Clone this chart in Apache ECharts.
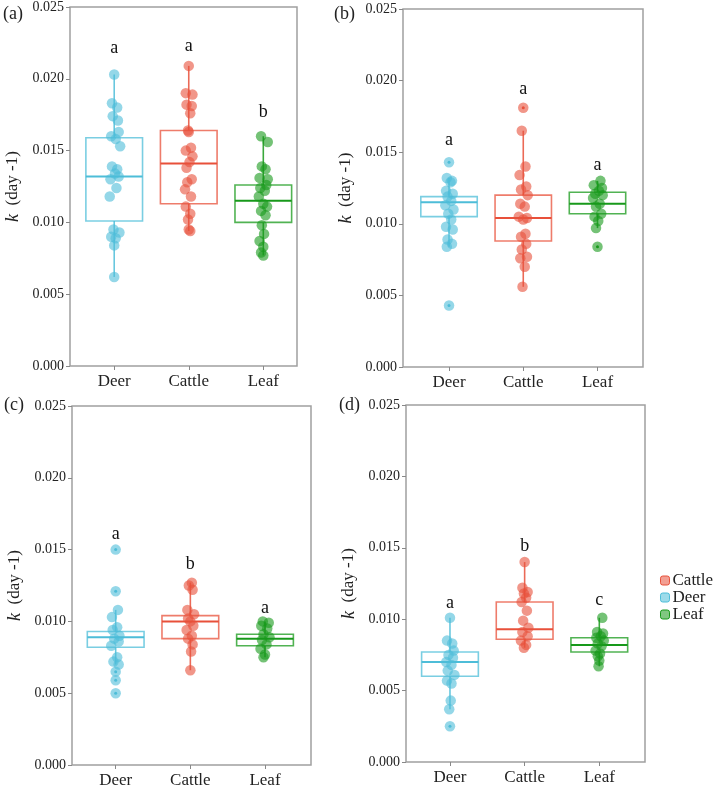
<!DOCTYPE html>
<html><head><meta charset="utf-8">
<script src="https://cdn.jsdelivr.net/npm/echarts@6/dist/echarts.min.js"></script>
<style>html,body{margin:0;padding:0;background:#fff}#c{width:720px;height:789px}</style>
</head><body><div id="c"></div>
<script>
// ---------- data ----------
const categories = ['Deer', 'Cattle', 'Leaf'];
const yTickValues = [0, 0.005, 0.010, 0.015, 0.020, 0.025];
const panelLabels = ['(a)', '(b)', '(c)', '(d)'];
const legendNames = ['Cattle', 'Deer', 'Leaf'];

// panel (a)
const deerA = [0.0203, 0.0183, 0.0180, 0.0174, 0.0171, 0.0163, 0.0160, 0.0158, 0.0153, 0.0139, 0.0137, 0.0134, 0.0132, 0.0130, 0.0124, 0.0118, 0.0095, 0.0093, 0.0090, 0.0089, 0.0084, 0.0062];
const cattleA = [0.0209, 0.0190, 0.0189, 0.0182, 0.0181, 0.0176, 0.0164, 0.0163, 0.0152, 0.0150, 0.0146, 0.0142, 0.0138, 0.0130, 0.0128, 0.0123, 0.0118, 0.0111, 0.0106, 0.0102, 0.0095, 0.0094];
const leafA = [0.0160, 0.0156, 0.0139, 0.0137, 0.0131, 0.0130, 0.0126, 0.0124, 0.0122, 0.0118, 0.0113, 0.0111, 0.0108, 0.0105, 0.0098, 0.0092, 0.0087, 0.0083, 0.0079, 0.0077];
const boxA = [[0.0062, 0.0101, 0.0132, 0.0159, 0.0203], [0.0094, 0.0113, 0.0141, 0.0164, 0.0209], [0.0077, 0.0100, 0.0115, 0.0126, 0.0160]];
const lettersA = ['a', 'a', 'b'];
const letterYA = [0.0221, 0.0223, 0.0177];
const outliersA = [[], [], []];

// panel (b)
const deerB = [0.0143, 0.0132, 0.0130, 0.0129, 0.0123, 0.0121, 0.0119, 0.0116, 0.0113, 0.0110, 0.0107, 0.0103, 0.0098, 0.0096, 0.0089, 0.0086, 0.0084, 0.0043];
const cattleB = [0.0181, 0.0165, 0.0140, 0.0134, 0.0126, 0.0124, 0.0120, 0.0114, 0.0112, 0.0105, 0.0104, 0.0103, 0.0093, 0.0091, 0.0086, 0.0082, 0.0077, 0.0076, 0.0070, 0.0056];
const leafB = [0.0130, 0.0127, 0.0125, 0.0123, 0.0121, 0.0120, 0.0118, 0.0114, 0.0112, 0.0107, 0.0105, 0.0102, 0.0097, 0.0084];
const boxB = [[0.0084, 0.0105, 0.0115, 0.0119, 0.0132], [0.0056, 0.0088, 0.0104, 0.0120, 0.0165], [0.0097, 0.0107, 0.0114, 0.0122, 0.0130]];
const lettersB = ['a', 'a', 'a'];
const letterYB = [0.0158, 0.0194, 0.0141];
const outliersB = [[0.0143, 0.0043], [0.0181], [0.0084]];

// panel (c)
const deerC = [0.0150, 0.0121, 0.0108, 0.0103, 0.0096, 0.0094, 0.0090, 0.0088, 0.0086, 0.0083, 0.0075, 0.0072, 0.0070, 0.0065, 0.0059, 0.0050];
const cattleC = [0.0127, 0.0125, 0.0122, 0.0108, 0.0105, 0.0102, 0.0100, 0.0097, 0.0094, 0.0090, 0.0088, 0.0084, 0.0079, 0.0066];
const leafC = [0.0100, 0.0099, 0.0097, 0.0095, 0.0091, 0.0089, 0.0087, 0.0084, 0.0081, 0.0077, 0.0075];
const boxC = [[0.0070, 0.0082, 0.0089, 0.0093, 0.0108], [0.0066, 0.0088, 0.0100, 0.0104, 0.0127], [0.0075, 0.0083, 0.0088, 0.0091, 0.0100]];
const lettersC = ['a', 'b', 'a'];
const letterYC = [0.0161, 0.0140, 0.0109];
const outliersC = [[0.0150, 0.0121, 0.0065, 0.0059, 0.0050], [], []];

// panel (d)
const deerD = [0.0101, 0.0085, 0.0083, 0.0078, 0.0075, 0.0073, 0.0070, 0.0068, 0.0064, 0.0061, 0.0057, 0.0055, 0.0043, 0.0037, 0.0025];
const cattleD = [0.0140, 0.0122, 0.0119, 0.0118, 0.0115, 0.0112, 0.0106, 0.0099, 0.0094, 0.0091, 0.0088, 0.0085, 0.0082, 0.0080];
const leafD = [0.0101, 0.0091, 0.0090, 0.0088, 0.0087, 0.0085, 0.0083, 0.0081, 0.0078, 0.0076, 0.0074, 0.0071, 0.0067];
const boxD = [[0.0037, 0.0060, 0.0070, 0.0077, 0.0101], [0.0080, 0.0086, 0.0093, 0.0112, 0.0140], [0.0067, 0.0077, 0.0082, 0.0087, 0.0101]];
const lettersD = ['a', 'b', 'c'];
const letterYD = [0.0111, 0.0151, 0.0113];
const outliersD = [[0.0025], [], []];

// horizontal jitter of each point (category units)
const jDeerA = [0.00, -0.03, 0.04, -0.02, 0.05, 0.06, -0.04, 0.02, 0.08, -0.03, 0.04, 0.01, 0.06, -0.05, 0.03, -0.06, -0.01, 0.07, -0.04, 0.02, 0.00, 0.00];
const jCattleA = [0.00, -0.04, 0.05, -0.03, 0.04, 0.02, -0.01, 0.00, 0.03, -0.04, 0.05, 0.01, -0.03, 0.04, -0.02, -0.05, 0.03, -0.04, 0.02, -0.01, 0.00, 0.02];
const jLeafA = [-0.03, 0.06, -0.02, 0.03, -0.05, 0.06, 0.04, -0.04, 0.02, -0.06, 0.00, 0.05, -0.03, 0.03, -0.02, 0.01, -0.05, 0.00, -0.03, 0.00];
const jDeerB = [0.00, -0.03, 0.04, 0.02, -0.04, 0.05, -0.02, 0.03, -0.05, 0.06, -0.01, 0.03, -0.04, 0.05, -0.02, 0.04, -0.03, 0.00];
const jCattleB = [0.00, -0.02, 0.03, -0.05, 0.04, -0.03, 0.06, -0.04, 0.02, -0.06, 0.05, 0.00, 0.03, -0.03, 0.04, -0.02, 0.05, -0.04, 0.02, -0.01];
const jLeafB = [0.04, -0.05, 0.06, 0.02, -0.03, 0.07, -0.06, 0.03, -0.02, 0.05, -0.04, 0.01, -0.02, 0.00];
const jDeerC = [0.00, 0.00, 0.03, -0.05, 0.02, -0.04, 0.05, -0.02, 0.04, -0.06, 0.02, -0.03, 0.04, 0.00, 0.00, 0.00];
const jCattleC = [0.02, -0.02, 0.03, -0.04, 0.05, -0.03, 0.00, 0.04, -0.05, 0.02, -0.03, 0.03, 0.01, 0.00];
const jLeafC = [-0.03, 0.05, -0.05, 0.03, -0.02, 0.06, -0.04, 0.02, -0.06, 0.00, -0.02];
const jDeerD = [0.00, -0.04, 0.03, 0.05, -0.02, 0.04, -0.05, 0.02, -0.03, 0.06, -0.04, 0.02, 0.01, -0.01, 0.00];
const jCattleD = [0.00, -0.03, 0.04, -0.01, 0.02, -0.04, 0.03, -0.02, 0.05, -0.03, 0.04, -0.05, 0.02, -0.01];
const jLeafD = [0.04, -0.03, 0.05, 0.02, -0.04, 0.06, -0.02, 0.03, -0.05, 0.01, -0.02, 0.00, -0.01];

// ---------- styling / layout ----------
const COLORS = ['#4DBDD8', '#E8503A', '#17991A'];
const FONT = "'Liberation Serif','Times New Roman',serif";
const BOX_HALF = 0.38;
const panels = [
  { grid: { left: 70, top: 7, width: 227, height: 359 }, xr: [-0.593, 2.452], title: { left: 3, top: 5 },
    values: [deerA, cattleA, leafA], jitter: [jDeerA, jCattleA, jLeafA], boxes: boxA, letters: lettersA, letterY: letterYA, outliers: outliersA },
  { grid: { left: 403, top: 9, width: 240, height: 358 }, xr: [-0.62, 2.613], title: { left: 334, top: 5 },
    values: [deerB, cattleB, leafB], jitter: [jDeerB, jCattleB, jLeafB], boxes: boxB, letters: lettersB, letterY: letterYB, outliers: outliersB },
  { grid: { left: 72, top: 406, width: 239, height: 359 }, xr: [-0.585, 2.616], title: { left: 4, top: 396 },
    values: [deerC, cattleC, leafC], jitter: [jDeerC, jCattleC, jLeafC], boxes: boxC, letters: lettersC, letterY: letterYC, outliers: outliersC },
  { grid: { left: 406, top: 405, width: 239, height: 357 }, xr: [-0.589, 2.612], title: { left: 339, top: 396 },
    values: [deerD, cattleD, leafD], jitter: [jDeerD, jCattleD, jLeafD], boxes: boxD, letters: lettersD, letterY: letterYD, outliers: outliersD }
];

function rgba(hex, a) {
  const n = parseInt(hex.slice(1), 16);
  return 'rgba(' + (n >> 16) + ',' + ((n >> 8) & 255) + ',' + (n & 255) + ',' + a + ')';
}

function boxRender(params, api) {
  const x = api.value(0);
  const mn = api.value(1), q1 = api.value(2), md = api.value(3), q3 = api.value(4), mx = api.value(5);
  const c = COLORS[params.dataIndex];
  const tl = api.coord([x - BOX_HALF, q3]);
  const br = api.coord([x + BOX_HALF, q1]);
  const ml = api.coord([x - BOX_HALF, md]);
  const mr = api.coord([x + BOX_HALF, md]);
  const pMax = api.coord([x, mx]);
  const pQ3 = api.coord([x, q3]);
  const pQ1 = api.coord([x, q1]);
  const pMin = api.coord([x, mn]);
  return {
    type: 'group',
    children: [
      { type: 'line', shape: { x1: pQ3[0], y1: pQ3[1], x2: pMax[0], y2: pMax[1] }, style: { stroke: rgba(c, 0.85), lineWidth: 1.6 } },
      { type: 'line', shape: { x1: pQ1[0], y1: pQ1[1], x2: pMin[0], y2: pMin[1] }, style: { stroke: rgba(c, 0.85), lineWidth: 1.6 } },
      { type: 'rect', shape: { x: tl[0], y: tl[1], width: br[0] - tl[0], height: br[1] - tl[1] }, style: { fill: '#fff', stroke: rgba(c, 0.75), lineWidth: 1.6 } },
      { type: 'line', shape: { x1: ml[0], y1: ml[1], x2: mr[0], y2: mr[1] }, style: { stroke: c, lineWidth: 2 } }
    ]
  };
}

const option = {
  animation: false,
  backgroundColor: '#fff',
  title: [], grid: [], xAxis: [], yAxis: [], series: [],
  legend: {
    orient: 'vertical', left: 655, top: 567, itemGap: 0, itemWidth: 9, itemHeight: 9, icon: 'roundRect',
    textStyle: { fontFamily: FONT, fontSize: 17, color: '#222', padding: [0, 0, 0, -2] },
    data: legendNames.map(function (n) {
      const c = COLORS[categories.indexOf(n)];
      return { name: n, itemStyle: { color: rgba(c, 0.55), borderColor: c, borderWidth: 1, opacity: 1 } };
    })
  }
};

panels.forEach(function (p, pi) {
  option.title.push({ text: panelLabels[pi], left: p.title.left, top: p.title.top, padding: 0,
    textStyle: { fontFamily: FONT, fontSize: 18, fontWeight: 'normal', color: '#222' } });
  option.grid.push(Object.assign({ show: true, borderColor: '#a0a0a0', borderWidth: 1.5, backgroundColor: 'transparent' }, p.grid));
  option.xAxis.push({
    type: 'value', gridIndex: pi, min: p.xr[0], max: p.xr[1], position: 'bottom',
    axisLine: { show: false, onZero: false }, splitLine: { show: false },
    axisTick: { show: true, customValues: [0, 1, 2], length: 4, lineStyle: { color: '#888' } },
    axisLabel: { customValues: [0, 1, 2], margin: 7, fontFamily: FONT, fontSize: 17, color: '#222',
      formatter: function (v) { return categories[Math.round(v)]; } }
  });
  option.yAxis.push({
    type: 'value', gridIndex: pi, min: 0, max: 0.025, interval: 0.005, position: 'left',
    axisLine: { show: false, onZero: false }, splitLine: { show: false },
    axisTick: { show: true, length: 4, lineStyle: { color: '#888' } },
    axisLabel: { margin: 6, fontFamily: FONT, fontSize: 14, color: '#222',
      formatter: function (v) { return v.toFixed(3); } },
    name: '{i|k}  (day -1)', nameLocation: 'middle', nameGap: 48, nameRotate: 90,
    nameTextStyle: { fontFamily: FONT, fontSize: 17, color: '#222',
      rich: { i: { fontFamily: FONT, fontSize: 18, fontStyle: 'italic', color: '#222' } } }
  });
  // boxes
  option.series.push({
    type: 'custom', name: 'box' + pi, xAxisIndex: pi, yAxisIndex: pi, z: 1, clip: false,
    encode: { x: 0, y: [1, 2, 3, 4, 5] },
    data: p.boxes.map(function (b, i) { return [i].concat(b); }),
    renderItem: boxRender
  });
  // jittered points
  p.values.forEach(function (vals, gi) {
    option.series.push({
      type: 'scatter', name: categories[gi], xAxisIndex: pi, yAxisIndex: pi, z: 2,
      symbolSize: 10.5, itemStyle: { color: COLORS[gi], opacity: 0.6 },
      data: vals.map(function (v, k) { return [gi + p.jitter[gi][k], v]; })
    });
  });
  // outlier dots
  p.outliers.forEach(function (vals, gi) {
    if (!vals.length) return;
    option.series.push({
      type: 'scatter', name: 'out' + pi + gi, xAxisIndex: pi, yAxisIndex: pi, z: 3,
      symbolSize: 3, itemStyle: { color: COLORS[gi], opacity: 1 },
      data: vals.map(function (v) { return [gi, v]; })
    });
  });
  // significance letters
  option.series.push({
    type: 'custom', name: 'letters' + pi, xAxisIndex: pi, yAxisIndex: pi, z: 4, clip: false,
    encode: { x: 0, y: 1 },
    data: p.letterY.map(function (y, i) { return [i, y]; }),
    renderItem: function (params, api) {
      const pt = api.coord([api.value(0), api.value(1)]);
      return { type: 'text', x: pt[0], y: pt[1],
        style: { text: p.letters[params.dataIndex], fill: '#111', font: '18px ' + FONT, align: 'center', verticalAlign: 'middle' } };
    }
  });
});

const chart = echarts.init(document.getElementById('c'), null, { renderer: 'canvas' });
chart.setOption(option);
</script>
</body></html>
